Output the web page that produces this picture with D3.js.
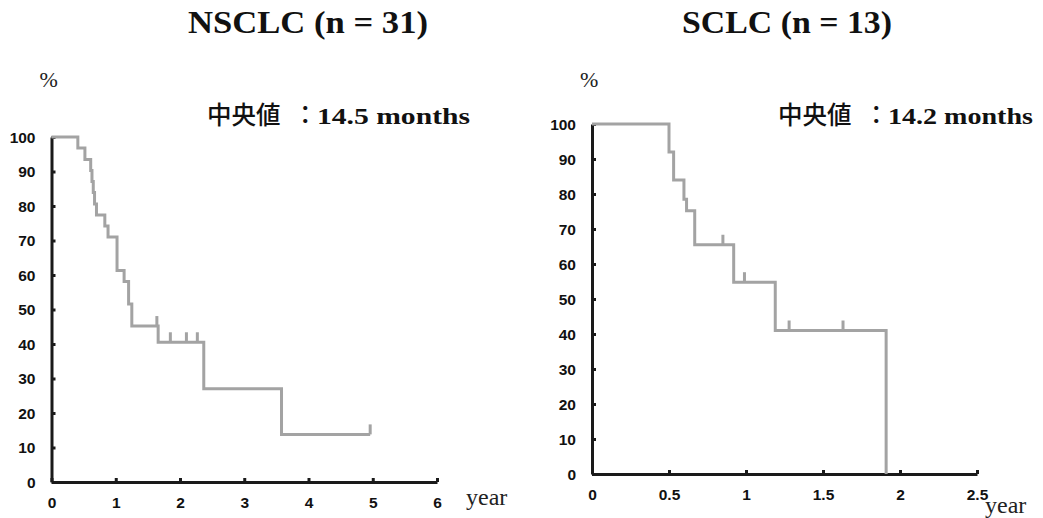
<!DOCTYPE html>
<html>
<head>
<meta charset="utf-8">
<script src="https://cdn.jsdelivr.net/npm/d3@7"></script>
<style>
  body { margin: 0; background: #fff; }
  svg { display: block; }
  .tick text { font-family: "Liberation Sans", Arial, sans-serif; font-weight: bold; font-size: 15.5px; fill: #111; }
</style>
</head>
<body>
<div class="sandbox"></div>
<script>
// NSCLC (n = 31) Kaplan-Meier steps
var nsclcTimes = [0, 0.41, 0.52, 0.61, 0.63, 0.65, 0.67, 0.70, 0.83, 0.88, 1.02, 1.13, 1.20, 1.25, 1.66, 2.37, 3.58, 4.96];
var nsclcSurv  = [100, 96.8, 93.5, 90.3, 87.1, 83.9, 80.6, 77.4, 74.2, 71.0, 61.3, 58.1, 51.6, 45.2, 40.5, 27.0, 13.8, 13.8];
var nsclcCensor = [1.64, 1.85, 2.10, 2.27, 4.96];
var nsclcXTicks = [0, 1, 2, 3, 4, 5, 6];

// SCLC (n = 13)
var sclcTimes = [0, 0.50, 0.53, 0.597, 0.614, 0.667, 0.92, 1.19, 1.91];
var sclcSurv  = [100, 92.0, 84.0, 78.5, 75.2, 65.5, 54.8, 41.0, 0];
var sclcCensor = [0.85, 0.99, 1.28, 1.63];
var sclcXTicks = [0, 0.5, 1, 1.5, 2, 2.5];

var yTicks = [0, 10, 20, 30, 40, 50, 60, 70, 80, 90, 100];

var w = 1043, h = 518;
var svg = d3.select(".sandbox").append("svg").attr("width", w).attr("height", h);

function stepAt(times, surv, t) {
  var i = d3.bisectRight(times, t) - 1;
  return surv[Math.max(0, i)];
}

function panel(cfg) {
  var x = d3.scaleLinear().domain([0, cfg.xmax]).range(cfg.xr);
  var y = d3.scaleLinear().domain([0, 100]).range(cfg.yr);
  var g = svg.append("g");

  // title
  g.append("text")
    .attr("x", cfg.titleX).attr("y", 33)
    .attr("textLength", cfg.titleW).attr("lengthAdjust", "spacingAndGlyphs")
    .style("font-family", "'Liberation Serif', 'Times New Roman', serif")
    .style("font-weight", "bold").style("font-size", "32px").style("fill", "#111")
    .text(cfg.title);

  // median
  var cjk = function(s, dx) {
    g.append("text")
      .attr("x", cfg.medX + dx).attr("y", 124)
      .style("font-family", "'Noto Sans CJK JP', sans-serif")
      .style("font-weight", 500).style("font-size", "24.5px").style("fill", "#111")
      .text(s);
  };
  cjk("中央値", 0);
  cjk("：", 86);
  g.append("text")
    .attr("x", cfg.medX + 110).attr("y", 124)
    .attr("textLength", cfg.medW).attr("lengthAdjust", "spacingAndGlyphs")
    .style("font-family", "'Liberation Serif', serif")
    .style("font-weight", "bold").style("font-size", "24px").style("fill", "#111")
    .text(cfg.median);

  // percent & year labels
  g.append("text").attr("x", cfg.xr[0] - 12).attr("y", 87)
    .style("font-family", "'Liberation Serif', serif").style("font-size", "22px").style("fill", "#222")
    .text("%");
  g.append("text").attr("x", cfg.yearX).attr("y", cfg.yearY)
    .style("font-family", "'Liberation Serif', serif").style("font-size", "24px").style("fill", "#222")
    .text("year");

  // axes
  var xa = g.append("g").attr("transform", "translate(0," + cfg.yr[0] + ")")
    .call(d3.axisBottom(x).tickValues(cfg.xticks).tickSizeInner(-4).tickSizeOuter(0).tickPadding(15)
      .tickFormat(d3.format("~g")));
  var ya = g.append("g").attr("transform", "translate(" + cfg.xr[0] + ",0)")
    .call(d3.axisLeft(y).tickValues(yTicks).tickSizeInner(-4).tickSizeOuter(0).tickPadding(16));
  [xa, ya].forEach(function(a) {
    a.select(".domain").attr("stroke", "#1a1a1a").attr("stroke-width", 3);
    a.selectAll(".tick line").attr("stroke", "#1a1a1a").attr("stroke-width", 3);
  });
  ya.selectAll(".tick text").attr("dy", "0.35em");

  // survival curve
  var pts = cfg.times.map(function(t, i) { return [t, cfg.surv[i]]; });
  var line = d3.line().x(function(d) { return x(d[0]); }).y(function(d) { return y(d[1]); })
    .curve(d3.curveStepAfter);
  g.append("path").datum(pts).attr("d", line)
    .attr("fill", "none").attr("stroke", "#a3a3a3").attr("stroke-width", 3)
    .attr("stroke-linejoin", "miter");

  // censor marks
  g.selectAll(".cens").data(cfg.censor).enter().append("line")
    .attr("x1", function(d) { return x(d); }).attr("x2", function(d) { return x(d); })
    .attr("y1", function(d) { return y(stepAt(cfg.times, cfg.surv, d)); })
    .attr("y2", function(d) { return y(stepAt(cfg.times, cfg.surv, d)) - 10; })
    .attr("stroke", "#a3a3a3").attr("stroke-width", 3);
}

panel({
  title: "NSCLC (n = 31)", titleX: 188, titleW: 240, medX: 207, medW: 153, median: "14.5 months",
  xmax: 6, xr: [51.5, 437], yr: [482, 137], xticks: nsclcXTicks,
  times: nsclcTimes, surv: nsclcSurv, censor: nsclcCensor,
  yearX: 466, yearY: 505
});
panel({
  title: "SCLC (n = 13)", titleX: 682, titleW: 210, medX: 778, medW: 145, median: "14.2 months",
  xmax: 2.5, xr: [592, 977], yr: [474, 124], xticks: sclcXTicks,
  times: sclcTimes, surv: sclcSurv, censor: sclcCensor,
  yearX: 985, yearY: 513
});
</script>
</body>
</html>
